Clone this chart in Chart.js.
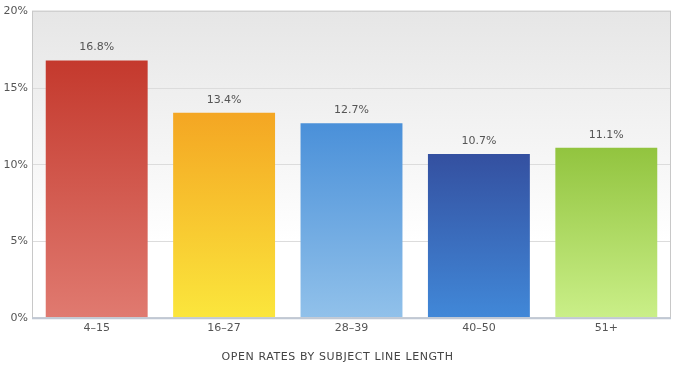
<!DOCTYPE html>
<html>
<head>
<meta charset="utf-8">
<script src="https://cdn.jsdelivr.net/npm/chart.js@4"></script>
<style>
html,body{margin:0;padding:0;background:#fff;}
#wrap{width:680px;height:370px;position:relative;}
</style>
</head>
<body>
<div id="wrap"><canvas id="c" width="680" height="370"></canvas></div>
<script>
const categories = ["4–15", "16–27", "28–39", "40–50", "51+"];
const openRates = [16.8, 13.4, 12.7, 10.7, 11.1];
const yTicks = [0, 5, 10, 15, 20];
const axisTitle = "OPEN RATES BY SUBJECT LINE LENGTH";
const barTopColors = ["#c4392d", "#f4a623", "#4a90d9", "#3450a0", "#92c43f"];
const barBottomColors = ["#e07a70", "#fbe63c", "#91c1ea", "#4188d8", "#caef88"];

const FONT = "'DejaVu Sans', Verdana, sans-serif";
const TXT = "#555";

const bgPlugin = {
  id: 'bgPlugin',
  beforeDraw(chart) {
    const {ctx, chartArea: a} = chart;
    const g = ctx.createLinearGradient(0, a.top, 0, a.bottom);
    g.addColorStop(0, "#e6e6e6");
    g.addColorStop(0.75, "#ffffff");
    g.addColorStop(1, "#ffffff");
    ctx.save();
    ctx.fillStyle = g;
    ctx.fillRect(a.left, a.top, a.right - a.left, a.bottom - a.top);
    ctx.restore();
  },
  afterDraw(chart) {
    const {ctx, chartArea: a} = chart;
    ctx.save();
    ctx.strokeStyle = "#c8c8c8";
    ctx.lineWidth = 1;
    ctx.strokeRect(a.left - 0.5, a.top - 0.5, a.right - a.left + 1, a.bottom - a.top + 1);
    ctx.strokeStyle = "#c0c8d4";
    ctx.lineWidth = 2;
    ctx.beginPath();
    ctx.moveTo(a.left - 1, a.bottom + 0.5);
    ctx.lineTo(a.right + 1, a.bottom + 0.5);
    ctx.stroke();
    ctx.font = "11px " + FONT;
    ctx.fillStyle = "#444";
    ctx.textAlign = "center";
    ctx.textBaseline = "middle";
    try { ctx.letterSpacing = "0.6px"; } catch (e) {}
    ctx.fillText(axisTitle, (a.left + a.right) / 2 - 14, 357);
    ctx.restore();
  },
  afterDatasetsDraw(chart) {
    const {ctx} = chart;
    const meta = chart.getDatasetMeta(0);
    ctx.save();
    ctx.font = "11px " + FONT;
    ctx.fillStyle = TXT;
    ctx.textAlign = "center";
    ctx.textBaseline = "middle";
    meta.data.forEach((bar, i) => {
      ctx.fillText(openRates[i].toFixed(1) + "%", bar.x, bar.y - 13);
    });
    ctx.restore();
  }
};

function barGradient(context) {
  const chart = context.chart;
  const a = chart.chartArea;
  const i = context.dataIndex;
  if (!a || i === undefined) return barTopColors[0];
  const top = chart.scales.y.getPixelForValue(openRates[i]);
  const g = chart.ctx.createLinearGradient(0, top, 0, a.bottom);
  g.addColorStop(0, barTopColors[i]);
  g.addColorStop(1, barBottomColors[i]);
  return g;
}

new Chart(document.getElementById('c'), {
  type: 'bar',
  data: {
    labels: categories,
    datasets: [{
      data: openRates,
      backgroundColor: barGradient,
      borderWidth: 0,
      categoryPercentage: 0.8,
      barPercentage: 1.0
    }]
  },
  options: {
    responsive: false,
    animation: false,
    devicePixelRatio: 1,
    layout: { padding: { top: 10, right: 10, bottom: 31, left: 0 } },
    plugins: { legend: { display: false }, tooltip: { enabled: false } },
    scales: {
      x: {
        grid: { display: false, drawTicks: false },
        border: { display: false },
        ticks: { color: TXT, font: { family: FONT, size: 11 }, padding: 4 }
      },
      y: {
        min: 0, max: 20,
        afterBuildTicks(scale) { scale.ticks = yTicks.map(v => ({ value: v })); },
        afterFit(scale) { scale.width = 33; },
        grid: { color: "#dcdcdc", drawTicks: false },
        border: { display: false },
        ticks: {
          color: TXT, font: { family: FONT, size: 11 }, padding: 5,
          callback: v => v + "%"
        }
      }
    }
  },
  plugins: [bgPlugin]
});
</script>
</body>
</html>
